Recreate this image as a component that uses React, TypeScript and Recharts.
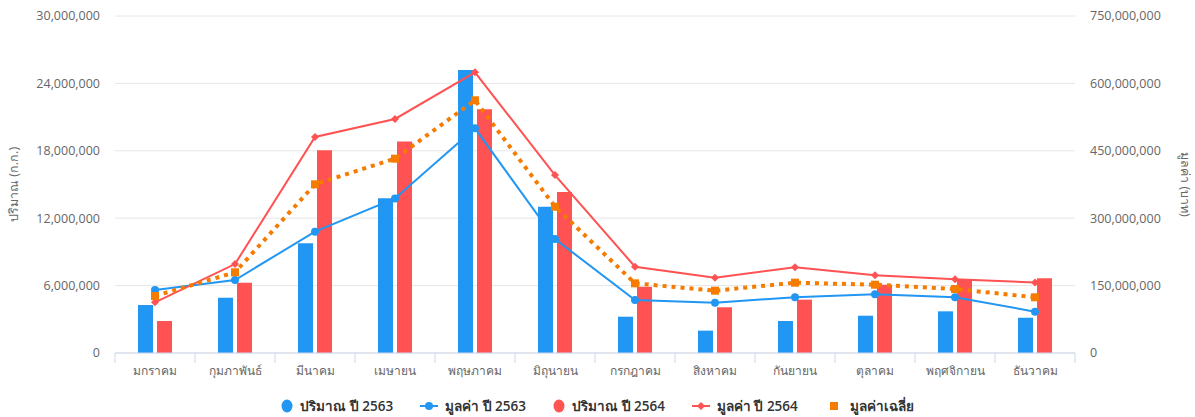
import { ComposedChart, Bar, Line, XAxis, YAxis, CartesianGrid, Legend } from "recharts";

const months = [
  "มกราคม", "กุมภาพันธ์", "มีนาคม", "เมษายน", "พฤษภาคม", "มิถุนายน",
  "กรกฎาคม", "สิงหาคม", "กันยายน", "ตุลาคม", "พฤศจิกายน", "ธันวาคม",
];

// ปริมาณ (ก.ก.)
const volume2563 = [4270000, 4920000, 9770000, 13770000, 25200000, 13030000, 3230000, 1990000, 2850000, 3320000, 3710000, 3140000];
const volume2564 = [2850000, 6260000, 18050000, 18820000, 21700000, 14340000, 5900000, 4070000, 4750000, 6080000, 6500000, 6650000];

// มูลค่า (บาท)
const value2563 = [140000000, 162500000, 270000000, 344000000, 500000000, 253700000, 118000000, 112000000, 124000000, 131000000, 124000000, 92000000];
const value2564 = [112800000, 198000000, 480700000, 520800000, 624700000, 396000000, 192000000, 167600000, 190700000, 173000000, 164000000, 157000000];
const valueAvg = [126900000, 179600000, 375400000, 432500000, 562400000, 325600000, 155000000, 138700000, 156500000, 152000000, 142400000, 124000000];

const leftTicks = [0, 6000000, 12000000, 18000000, 24000000, 30000000];
const rightTicks = [0, 150000000, 300000000, 450000000, 600000000, 750000000];

const BLUE = "#2196f3";
const RED = "#ff5252";
const ORANGE = "#f57c00";

const data = months.map((m, i) => ({
  month: m,
  v63: volume2563[i],
  v64: volume2564[i],
  p63: value2563[i],
  p64: value2564[i],
  avg: valueAvg[i],
}));

const W = 1195;
const H = 417;
const LEFT_W = 115;
const RIGHT_W = 120;
const BAND = (W - LEFT_W - RIGHT_W) / months.length;

const fmt = (v: number) => v.toLocaleString("en-US");

const MonthTick = (props: any) => {
  const { x, y, payload, index } = props;
  return (
    <g>
      <line x1={x - BAND / 2} x2={x - BAND / 2} y1={y} y2={y + 10} stroke="#ccd6eb" />
      {index === months.length - 1 && (
        <line x1={x + BAND / 2} x2={x + BAND / 2} y1={y} y2={y + 10} stroke="#ccd6eb" />
      )}
      <text x={x} y={y + 19} textAnchor="middle" dominantBaseline="middle" fill="#666" fontSize={12}>
        {payload.value}
      </text>
    </g>
  );
};

const Diamond = (props: any) => {
  const { cx, cy } = props;
  if (cx == null || cy == null) return null;
  return <path d={`M${cx} ${cy - 4}L${cx + 4} ${cy}L${cx} ${cy + 4}L${cx - 4} ${cy}Z`} fill={RED} />;
};

const Square = (props: any) => {
  const { cx, cy } = props;
  if (cx == null || cy == null) return null;
  return <rect x={cx - 4} y={cy - 4} width={8} height={8} fill={ORANGE} />;
};

const legendItems = [
  { name: "ปริมาณ ปี 2563", type: "circle", color: BLUE },
  { name: "มูลค่า ปี 2563", type: "lineCircle", color: BLUE },
  { name: "ปริมาณ ปี 2564", type: "circle", color: RED },
  { name: "มูลค่า ปี 2564", type: "lineDiamond", color: RED },
  { name: "มูลค่าเฉลี่ย", type: "lineSquare", color: ORANGE },
];

const LegendIcon = ({ type, color }: { type: string; color: string }) => {
  if (type === "circle") {
    return (
      <svg width={12} height={14}>
        <ellipse cx={6} cy={7} rx={5.5} ry={6.5} fill={color} />
      </svg>
    );
  }
  return (
    <svg width={18} height={14}>
      {type !== "lineSquare" && <line x1={0} x2={18} y1={7} y2={7} stroke={color} strokeWidth={2} />}
      {type === "lineCircle" && <circle cx={9} cy={7} r={4} fill={color} />}
      {type === "lineDiamond" && <path d="M9 3L13 7L9 11L5 7Z" fill={color} />}
      {type === "lineSquare" && <rect x={5} y={3} width={8} height={8} fill={color} />}
    </svg>
  );
};

const renderLegend = () => (
  <div style={{ display: "flex", justifyContent: "center", alignItems: "center", gap: 27, paddingTop: 8 }}>
    {legendItems.map((it) => (
      <div key={it.name} style={{ display: "flex", alignItems: "center", gap: 7, fontSize: 13.5, fontWeight: 600, color: "#333" }}>
        <LegendIcon type={it.type} color={it.color} />
        <span>{it.name}</span>
      </div>
    ))}
  </div>
);

export default function App() {
  return (
    <div style={{ position: "absolute", left: 0, top: 0, fontFamily: "'Open Sans', 'Noto Sans', sans-serif" }}>
      <ComposedChart width={W} height={H} data={data} margin={{ top: 16, right: 0, bottom: 0, left: 0 }}>
        <CartesianGrid yAxisId="left" vertical={false} stroke="#e6e6e6" />
        <XAxis
          dataKey="month"
          stroke="#ccd6eb"
          tickLine={false}
          tickSize={0}
          tickMargin={0}
          height={34}
          tick={<MonthTick />}
          interval={0}
        />
        <YAxis
          yAxisId="left"
          width={LEFT_W}
          domain={[0, 30000000]}
          ticks={leftTicks}
          tickFormatter={fmt}
          axisLine={false}
          tickLine={false}
          tickMargin={9}
          tick={{ fill: "#666", fontSize: 12.5 }}
          label={{ value: "ปริมาณ (ก.ก.)", angle: -90, position: "insideLeft", offset: 14, fill: "#666", fontSize: 12.5, style: { textAnchor: "middle" } }}
        />
        <YAxis
          yAxisId="right"
          orientation="right"
          width={RIGHT_W}
          domain={[0, 750000000]}
          ticks={rightTicks}
          tickFormatter={fmt}
          axisLine={false}
          tickLine={false}
          tickMargin={9}
          tick={{ fill: "#666", fontSize: 12.5, textAnchor: "start" }}
          label={{ value: "มูลค่า (บาท)", angle: 90, position: "insideRight", offset: 10, fill: "#666", fontSize: 12.5, style: { textAnchor: "middle" } }}
        />
        <Legend verticalAlign="bottom" height={30} content={renderLegend} />
        <Bar yAxisId="left" dataKey="v63" name="ปริมาณ ปี 2563" fill={BLUE} barSize={15} isAnimationActive={false} />
        <Bar yAxisId="left" dataKey="v64" name="ปริมาณ ปี 2564" fill={RED} barSize={15} isAnimationActive={false} />
        <Line yAxisId="right" dataKey="p63" name="มูลค่า ปี 2563" stroke={BLUE} strokeWidth={2} dot={{ r: 4, fill: BLUE, stroke: BLUE, strokeWidth: 0 }} isAnimationActive={false} />
        <Line yAxisId="right" dataKey="p64" name="มูลค่า ปี 2564" stroke={RED} strokeWidth={2} dot={<Diamond />} isAnimationActive={false} />
        <Line yAxisId="right" dataKey="avg" name="มูลค่าเฉลี่ย" stroke={ORANGE} strokeWidth={4} strokeDasharray="4 5" dot={<Square />} isAnimationActive={false} />
      </ComposedChart>
    </div>
  );
}
